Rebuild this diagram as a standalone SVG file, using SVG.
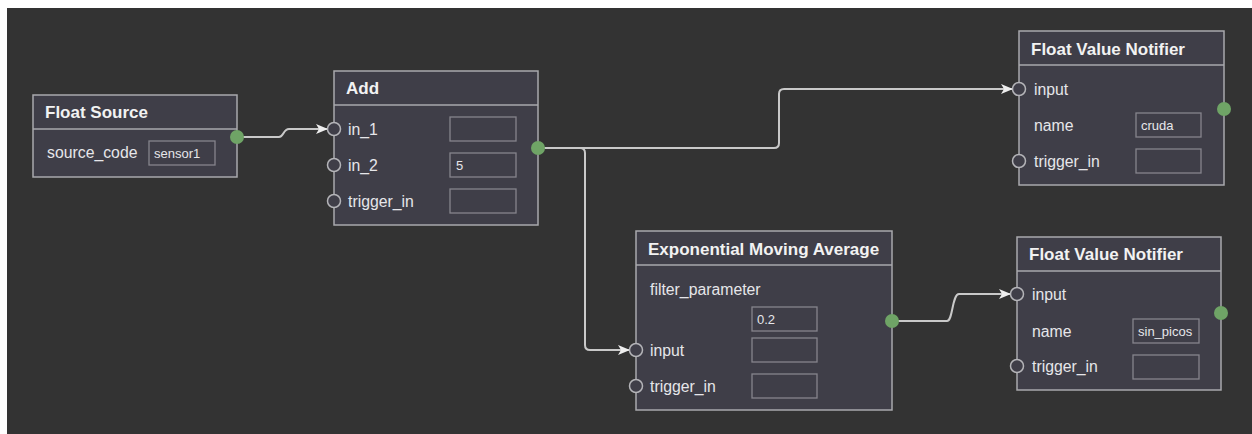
<svg xmlns="http://www.w3.org/2000/svg" width="1252" height="434" viewBox="0 0 1252 434">
<defs>
<style>
.bg{fill:#333333}
.node{fill:#3f3e48;stroke:#a9a9ad;stroke-width:1.5}
.sep{stroke:#a9a9ad;stroke-width:1.5}
.title{font-family:"Liberation Sans",Arial,sans-serif;font-size:17px;font-weight:bold;fill:#f2f2f2}
.lbl{font-family:"Liberation Sans",Arial,sans-serif;font-size:15.8px;fill:#e6e6ea}
.box{fill:none;stroke:#86858c;stroke-width:1.3}
.val{font-family:"Liberation Sans",Arial,sans-serif;font-size:13px;fill:#e6e6ea}
.in{fill:#3f3e48;stroke:#b4b4b8;stroke-width:1.5}
.out{fill:#6fa466}
.wire{fill:none;stroke:#c9c9c9;stroke-width:2;marker-end:url(#arr)}
</style>
<marker id="arr" viewBox="0 0 12 10" refX="11" refY="5" markerWidth="12" markerHeight="10" markerUnits="userSpaceOnUse" orient="auto">
<path d="M0,0 L12,5 L0,10 L3,5 Z" fill="#eeeeee"/>
</marker>
</defs>
<rect class="bg" x="7" y="8" width="1245" height="426"/>

<g id="connectors">
<path class="wire" d="M237,137 H279 C284,137 283,129 289,129 H327"/>
<path class="wire" d="M538,148 H774 Q779,148 779,143 V94 Q779,89 784,89 H1012"/>
<path class="wire" d="M538,148 H580 Q585,148 585,153 V345 Q585,350 590,350 H629"/>
<path class="wire" d="M892,321 H947 C953,321 952,294 959,294 H1010"/>
</g>

<g id="float-source">
<rect class="node" x="33" y="95" width="204" height="82"/>
<line class="sep" x1="33" y1="129" x2="237" y2="129"/>
<text class="title" x="45" y="118">Float Source</text>
<text class="lbl" x="47" y="158">source_code</text>
<rect class="box" x="149" y="141" width="66" height="24"/>
<text class="val" x="154" y="158">sensor1</text>
<circle class="out" cx="237" cy="137" r="7"/>
</g>

<g id="add">
<rect class="node" x="334" y="71" width="204" height="154"/>
<line class="sep" x1="334" y1="105" x2="538" y2="105"/>
<text class="title" x="346" y="94">Add</text>
<circle class="in" cx="334" cy="129" r="6.5"/>
<text class="lbl" x="348" y="135">in_1</text>
<rect class="box" x="450" y="117" width="66" height="24"/>
<circle class="in" cx="334" cy="165" r="6.5"/>
<text class="lbl" x="348" y="171">in_2</text>
<rect class="box" x="450" y="153" width="66" height="24"/>
<text class="val" x="456" y="170">5</text>
<circle class="in" cx="334" cy="201" r="6.5"/>
<text class="lbl" x="348" y="207">trigger_in</text>
<rect class="box" x="450" y="189" width="66" height="24"/>
<circle class="out" cx="538" cy="148" r="7"/>
</g>

<g id="notifier-1">
<rect class="node" x="1019" y="31" width="205" height="154"/>
<line class="sep" x1="1019" y1="65" x2="1224" y2="65"/>
<text class="title" x="1031" y="55">Float Value Notifier</text>
<circle class="in" cx="1019" cy="89" r="6.5"/>
<text class="lbl" x="1034" y="95">input</text>
<text class="lbl" x="1034" y="131">name</text>
<rect class="box" x="1136" y="113" width="65" height="24"/>
<text class="val" x="1141" y="130">cruda</text>
<circle class="in" cx="1019" cy="161" r="6.5"/>
<text class="lbl" x="1034" y="167">trigger_in</text>
<rect class="box" x="1136" y="149" width="65" height="24"/>
<circle class="out" cx="1224" cy="109" r="7"/>
</g>

<g id="ema">
<rect class="node" x="636" y="231" width="256" height="179"/>
<line class="sep" x1="636" y1="265" x2="892" y2="265"/>
<text class="title" x="648" y="255">Exponential Moving Average</text>
<text class="lbl" x="650" y="295">filter_parameter</text>
<rect class="box" x="752" y="307" width="65" height="24"/>
<text class="val" x="757" y="324">0.2</text>
<circle class="in" cx="636" cy="350" r="6.5"/>
<text class="lbl" x="650" y="356">input</text>
<rect class="box" x="752" y="338" width="65" height="24"/>
<circle class="in" cx="636" cy="386" r="6.5"/>
<text class="lbl" x="650" y="392">trigger_in</text>
<rect class="box" x="752" y="374" width="65" height="24"/>
<circle class="out" cx="892" cy="321" r="7"/>
</g>

<g id="notifier-2">
<rect class="node" x="1017" y="237" width="204" height="153"/>
<line class="sep" x1="1017" y1="271" x2="1221" y2="271"/>
<text class="title" x="1029" y="260">Float Value Notifier</text>
<circle class="in" cx="1017" cy="294" r="6.5"/>
<text class="lbl" x="1032" y="300">input</text>
<text class="lbl" x="1032" y="337">name</text>
<rect class="box" x="1133" y="319" width="66" height="24"/>
<text class="val" x="1138" y="336">sin_picos</text>
<circle class="in" cx="1017" cy="366" r="6.5"/>
<text class="lbl" x="1032" y="372">trigger_in</text>
<rect class="box" x="1133" y="355" width="66" height="24"/>
<circle class="out" cx="1221" cy="313" r="7"/>
</g>
</svg>
